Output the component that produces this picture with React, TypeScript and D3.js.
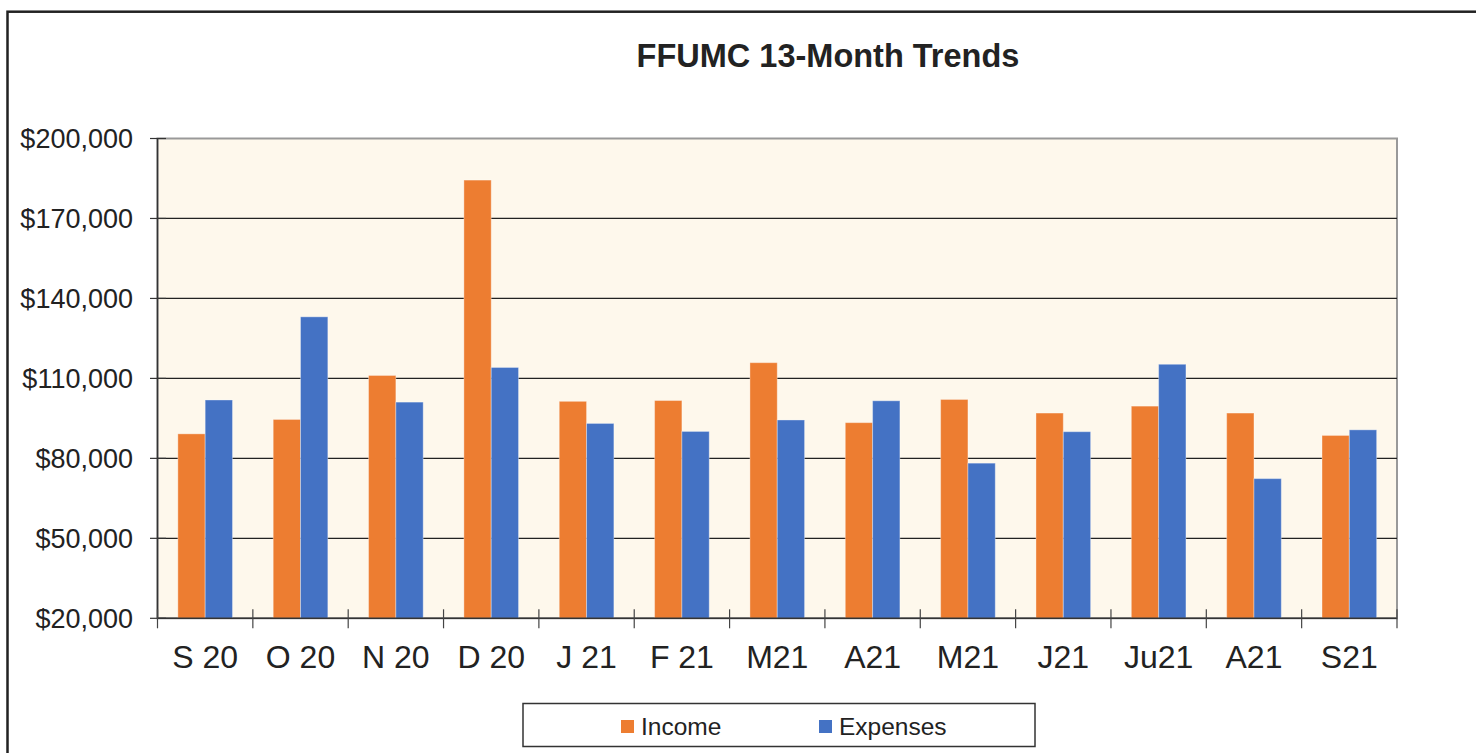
import React from 'react';
import * as d3 from 'd3';

const months = ['S 20', 'O 20', 'N 20', 'D 20', 'J 21', 'F 21', 'M21', 'A21', 'M21', 'J21', 'Ju21', 'A21', 'S21'];
const seriesNames = ['Income', 'Expenses'];
const income = [89200, 94600, 111100, 184400, 101400, 101700, 115900, 93400, 102100, 97000, 99600, 97000, 88600];
const expenses = [101900, 133100, 101100, 114100, 93100, 90100, 94400, 101600, 78200, 90000, 115300, 72400, 90700];
const yTicks = [20000, 50000, 80000, 110000, 140000, 170000, 200000];

const colors: Record<string, string> = { Income: '#ED7D31', Expenses: '#4472C4' };
const font = '"Liberation Sans", Arial, sans-serif';

const W = 1476;
const H = 753;
const plot = { left: 157.5, right: 1397, top: 138.5, bottom: 618.3 };

export default function App() {
  const x = d3
    .scaleBand<number>()
    .domain(months.map((_, i) => i))
    .range([plot.left, plot.right])
    .paddingInner(0.427)
    .paddingOuter(0.2135);

  const xInner = d3.scaleBand<string>().domain(seriesNames).range([0, x.bandwidth()]);

  const y = d3.scaleLinear().domain([20000, 200000]).range([plot.bottom, plot.top]);

  const fmt = d3.format(',');
  const values: Record<string, number[]> = { Income: income, Expenses: expenses };

  // tick marks sit on the group boundaries
  const boundaries = d3.range(months.length + 1).map((i) => plot.left + i * x.step());

  return (
    <svg
      width={W}
      height={H}
      style={{ position: 'absolute', left: 0, top: 0, display: 'block', background: '#fff' }}
      fontFamily={font}
    >
      {/* outer frame */}
      <rect x={7.5} y={11.7} width={W + 40} height={H + 40} fill="none" stroke="#222" strokeWidth={2.5} />

      <text x={828} y={67} textAnchor="middle" fontSize={32.5} fontWeight="bold" fill="#222">
        FFUMC 13-Month Trends
      </text>

      {/* plot background */}
      <rect
        x={plot.left}
        y={plot.top}
        width={plot.right - plot.left}
        height={plot.bottom - plot.top}
        fill="#FEF8EC"
        stroke="#999"
        strokeWidth={2}
      />

      {/* gridlines */}
      {yTicks
        .filter((t) => t > 20000 && t < 200000)
        .map((t) => (
          <line key={t} x1={plot.left} x2={plot.right} y1={y(t)} y2={y(t)} stroke="#222" strokeWidth={1.2} />
        ))}

      {/* bars */}
      {months.map((m, i) => (
        <g key={i} transform={`translate(${x(i)},0)`}>
          {seriesNames.map((s) => (
            <rect
              key={s}
              x={xInner(s)}
              y={y(values[s][i])}
              width={xInner.bandwidth()}
              height={y(20000) - y(values[s][i])}
              fill={colors[s]}
              stroke="rgba(255,255,255,0.35)"
              strokeWidth={1}
            />
          ))}
        </g>
      ))}

      {/* axes */}
      <line x1={plot.left} x2={plot.left} y1={plot.top} y2={plot.bottom} stroke="#333" strokeWidth={1.5} />
      <line x1={plot.left} x2={plot.right} y1={plot.bottom} y2={plot.bottom} stroke="#333" strokeWidth={1.5} />

      {yTicks.map((t) => (
        <g key={t}>
          <line x1={150} x2={166} y1={y(t)} y2={y(t)} stroke="#333" strokeWidth={1.2} />
          <text x={133} y={y(t)} dy="0.35em" textAnchor="end" fontSize={27} fill="#222">
            ${fmt(t)}
          </text>
        </g>
      ))}

      {boundaries.map((b, i) => (
        <line key={i} x1={b} x2={b} y1={plot.bottom - 9} y2={plot.bottom + 10} stroke="#444" strokeWidth={1.2} />
      ))}

      {months.map((m, i) => (
        <text
          key={i}
          x={(x(i) as number) + x.bandwidth() / 2}
          y={668}
          textAnchor="middle"
          fontSize={32}
          fill="#222"
        >
          {m}
        </text>
      ))}

      {/* legend */}
      <rect x={523} y={703.5} width={512} height={43} fill="#fff" stroke="#333" strokeWidth={1.5} />
      {seriesNames.map((s, i) => {
        const lx = 621 + i * 198;
        return (
          <g key={s}>
            <rect x={lx} y={720} width={13} height={13} fill={colors[s]} />
            <text x={lx + 20} y={735} fontSize={24.5} fill="#222">
              {s}
            </text>
          </g>
        );
      })}
    </svg>
  );
}
